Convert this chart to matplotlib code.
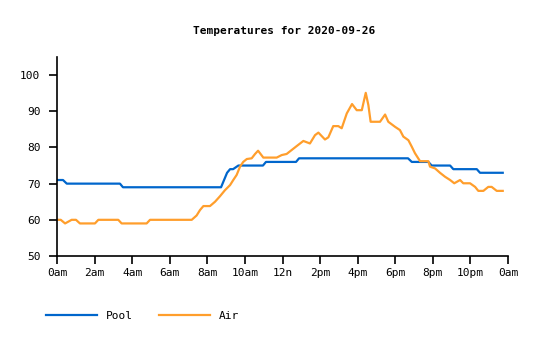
import matplotlib
matplotlib.use("Agg")
import matplotlib.pyplot as plt

title = "Temperatures for 2020-09-26"

pool_hours = [0, 0.32, 0.52, 3.35, 3.51, 8.73, 9.05, 9.21, 9.37, 9.65, 10.96, 11.12,
              12.72, 12.88, 18.68, 18.88, 19.76, 19.94, 20.92, 21.09, 22.34, 22.51, 23.72]
pool_temps = [71, 71, 70, 70, 69, 69, 73, 74, 74, 75, 75, 76,
              76, 77, 77, 76, 76, 75, 75, 74, 74, 73, 73]

air_hours = [0, 0.2, 0.43, 0.78, 1.01, 1.22, 2.02, 2.2, 3.26, 3.44, 4.77, 4.95,
             7.17, 7.43, 7.61, 7.79, 8.14, 8.41, 8.67, 8.94, 9.21, 9.38, 9.56, 9.74,
             9.91, 10.1, 10.36, 10.54, 10.7, 10.98, 11.69, 11.96, 12.22, 12.49, 12.76,
             13.11, 13.46, 13.73, 13.91, 14.26, 14.44, 14.7, 14.97, 15.15, 15.42, 15.7,
             15.95, 16.22, 16.43, 16.57, 16.69, 17.19, 17.46, 17.63, 17.99, 18.25, 18.43,
             18.7, 18.88, 19.05, 19.32, 19.76, 19.85, 20.12, 20.38, 20.65, 20.92, 21.14,
             21.45, 21.62, 21.98, 22.25, 22.42, 22.69, 22.95, 23.13, 23.4, 23.72]
air_temps = [60, 60, 59, 60, 60, 59, 59, 60, 60, 59, 59, 60,
             60, 61.2, 62.7, 63.8, 63.8, 65, 66.5, 68.2, 69.6, 71, 72.4, 74.7,
             76, 76.8, 77, 78.2, 79.1, 77.2, 77.2, 77.9, 78.2, 79.3, 80.4,
             81.8, 81.1, 83.4, 84.1, 82.2, 82.8, 85.9, 85.9, 85.3, 89.4, 92,
             90.3, 90.3, 95.1, 91.7, 87.1, 87.1, 89.1, 87.1, 85.7, 84.8, 83,
             82, 80.2, 78.4, 76.2, 76.2, 74.7, 74.2, 73, 71.9, 71, 70.1,
             71, 70.1, 70.1, 69.1, 68, 68, 69.1, 69.1, 68, 68]

x_ticks = list(range(0, 25, 2))
x_labels = ["0am", "2am", "4am", "6am", "8am", "10am", "12n", "2pm", "4pm",
            "6pm", "8pm", "10pm", "0am"]
y_ticks = [50, 60, 70, 80, 90, 100]

pool_color = "#0066cc"
air_color = "#ff9e2c"

plt.rcParams['font.family'] = ['DejaVu Sans Mono']
fs = 8

fig = plt.figure(figsize=(5.4, 3.4), dpi=100)
ax = fig.add_axes([57/540, 1-256/340, (508-57)/540, (256-57)/340])

ax.plot(pool_hours, pool_temps, color=pool_color, lw=1.6, label="Pool")
ax.plot(air_hours, air_temps, color=air_color, lw=1.6, label="Air")

ax.set_xlim(0, 24)
ax.set_ylim(50, 105)
ax.set_xticks(x_ticks)
ax.set_xticklabels(x_labels)
ax.set_yticks(y_ticks)
for s in ["top", "right"]:
    ax.spines[s].set_visible(False)
for s in ["left", "bottom"]:
    ax.spines[s].set_linewidth(1.2)
ax.tick_params(axis='both', length=6, width=1.2, labelsize=fs)
ax.tick_params(axis='y', pad=6)
ax.tick_params(axis='x', pad=3)

fig.text(284/540, 1-31/340, title, ha='center', va='center', fontsize=fs, fontweight='bold')

fig.legend(loc='center left', bbox_to_anchor=(46/540, 1-316/340), ncol=2, frameon=False,
           fontsize=fs, handlelength=4.6, handletextpad=0.8, columnspacing=2.3,
           borderpad=0, borderaxespad=0)

fig.savefig("out.png", dpi=100)
